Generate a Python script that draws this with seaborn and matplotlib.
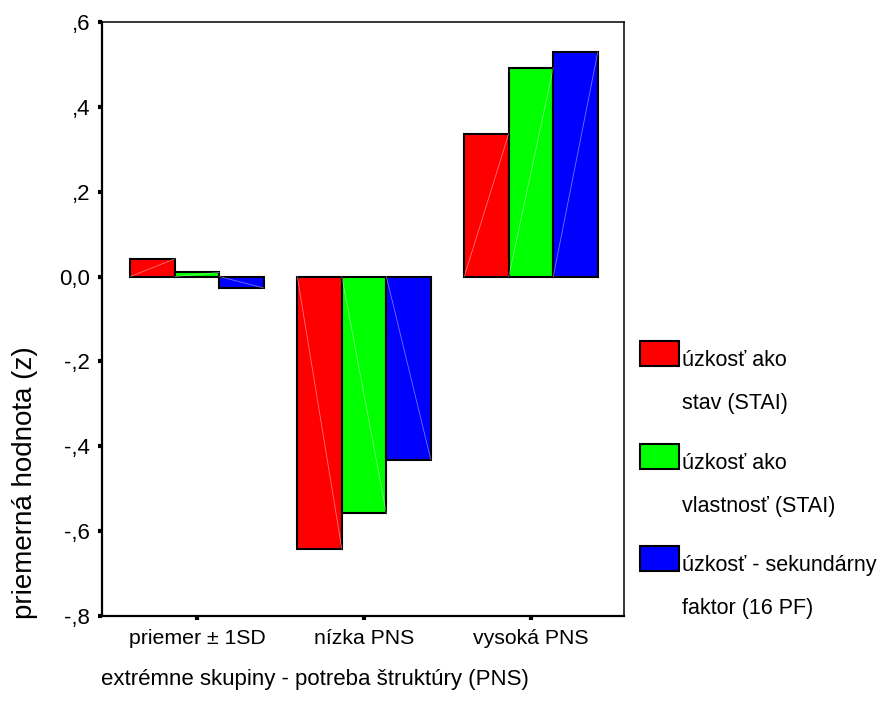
import matplotlib
matplotlib.use("Agg")
import matplotlib.pyplot as plt
from matplotlib.patches import Rectangle
import seaborn as sns
import pandas as pd

# Group means of the three anxiety measures (z-scores)
groups = ["priemer ± 1SD", "nízka PNS", "vysoká PNS"]
measures = ["úzkosť ako\nstav (STAI)",
            "úzkosť ako\nvlastnosť (STAI)",
            "úzkosť - sekundárny\nfaktor (16 PF)"]
state_stai = [0.042, -0.642, 0.337]
trait_stai = [0.010, -0.558, 0.492]
factor_16pf = [-0.027, -0.432, 0.529]
colors = ["#FF0000", "#00FF00", "#0000FF"]

y_ticks = [0.6, 0.4, 0.2, 0.0, -0.2, -0.4, -0.6, -0.8]
y_tick_labels = [",6", ",4", ",2", "0,0", "-,2", "-,4", "-,6", "-,8"]

rows = []
for m, vals in zip(measures, [state_stai, trait_stai, factor_16pf]):
    for g, v in zip(groups, vals):
        rows.append({"skupina": g, "miera": m, "hodnota": v})
df = pd.DataFrame(rows)

sns.set_style("white")
plt.rcParams["font.family"] = ["Liberation Sans", "DejaVu Sans"]
plt.rcParams["text.color"] = "black"
plt.rcParams["axes.labelcolor"] = "black"

W, H = 879, 720
fig = plt.figure(figsize=(W / 100, H / 100), dpi=100)
ax = fig.add_axes([102 / W, 1 - 616 / H, 522 / W, 594 / H])

sns.barplot(data=df, x="skupina", y="hodnota", hue="miera",
            order=groups, hue_order=measures, palette=colors,
            width=0.8, gap=0, edgecolor="black", linewidth=1.5,
            saturation=1, errorbar=None, legend=False, ax=ax)

# faint diagonal stroke across each bar
for p in ax.patches:
    x0, w, h = p.get_x(), p.get_width(), p.get_height()
    ax.plot([x0, x0 + w], [0, h], color="white", lw=0.6, alpha=0.45,
            zorder=p.get_zorder() + 0.1)

ax.set_ylim(-0.8, 0.6)
ax.set_xlim(-0.57, 2.557)
ax.set_yticks(y_ticks)
ax.set_yticklabels(y_tick_labels)

for side in ["left", "bottom"]:
    ax.spines[side].set_linewidth(1.6)
    ax.spines[side].set_color("black")
for side in ["top", "right"]:
    ax.spines[side].set_linewidth(1.1)
    ax.spines[side].set_color("black")

ax.tick_params(axis="both", direction="out", length=3, width=3,
               color="black", labelcolor="black", left=True, bottom=True)
ax.tick_params(axis="y", labelsize=16, pad=5.5)
ax.tick_params(axis="x", labelsize=15.3, pad=6)

ax.set_xlabel("extrémne skupiny - potreba štruktúry (PNS)", fontsize=16)
ax.set_ylabel("priemerná hodnota (z)", fontsize=20)
ax.xaxis.set_label_coords(0.408, -0.1077)
ax.xaxis.label.set_va("center")
ax.yaxis.set_label_coords(-0.1475, 0.225)
ax.yaxis.label.set_va("center")

# legend to the right of the plot frame
sw_x, sw_w, sw_h = 640, 39, 25
sw_tops = [341, 444, 546]
for lab, col, top in zip(measures, colors, sw_tops):
    fig.add_artist(Rectangle((sw_x / W, 1 - (top + sw_h) / H), sw_w / W, sw_h / H,
                             transform=fig.transFigure, facecolor=col,
                             edgecolor="black", linewidth=1.5))
    first, second = lab.split("\n")
    base = top + sw_h
    fig.text(682 / W, 1 - base / H, first, fontsize=15.5, va="baseline", ha="left")
    fig.text(682 / W, 1 - (base + 43) / H, second, fontsize=15.5, va="baseline", ha="left")

fig.savefig("out.png", dpi=100)
